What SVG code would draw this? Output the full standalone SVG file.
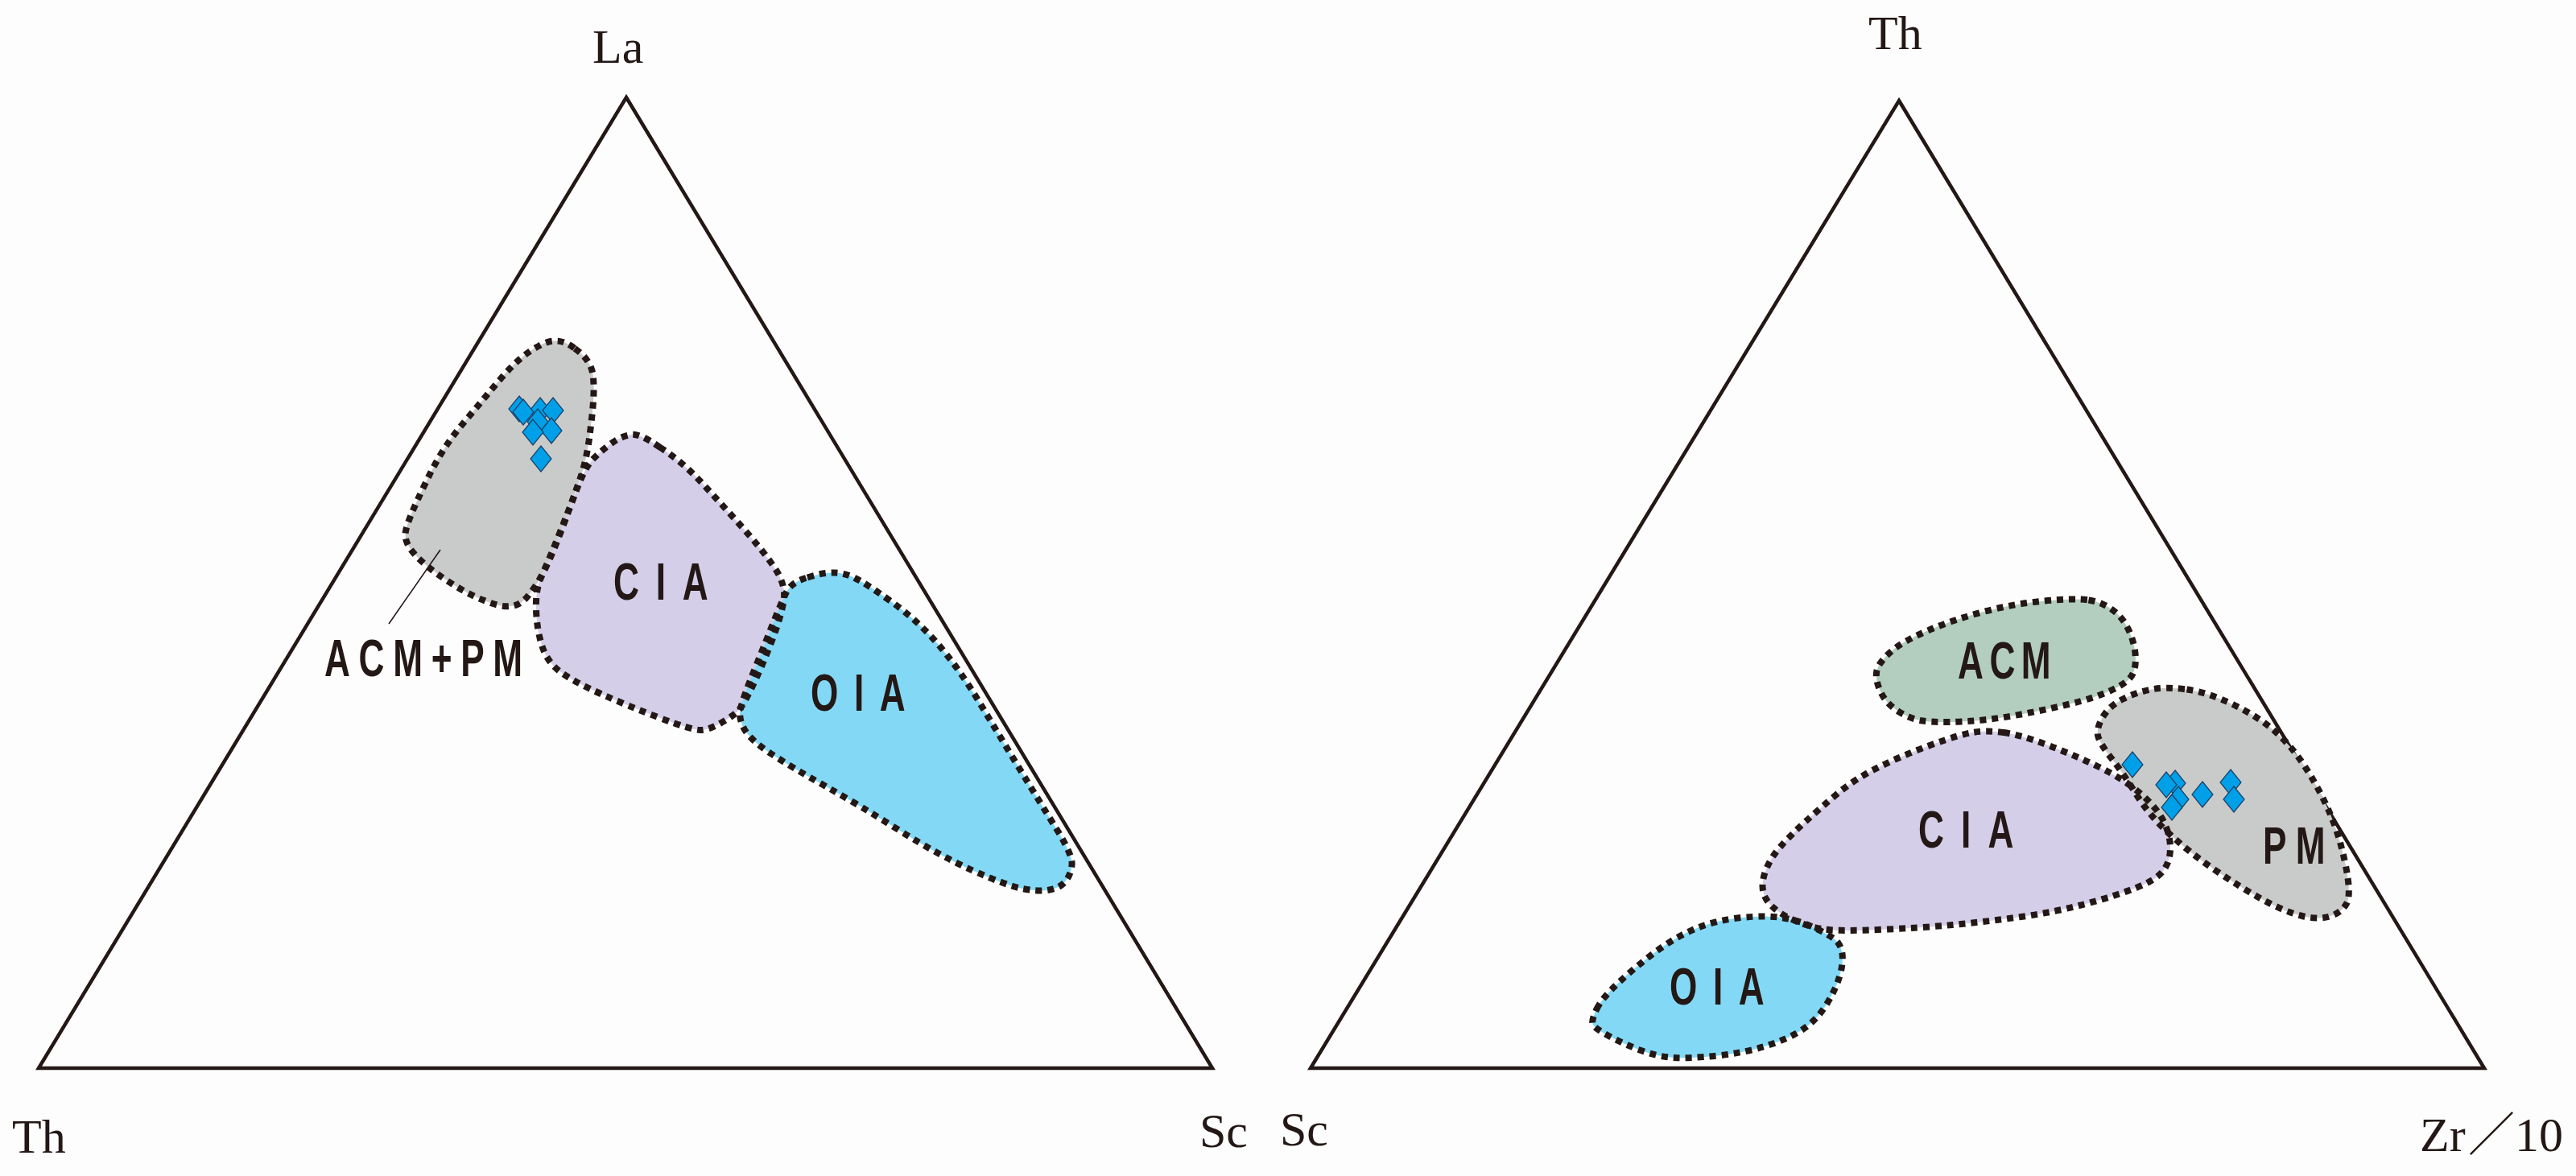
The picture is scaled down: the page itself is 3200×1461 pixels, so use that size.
<svg xmlns="http://www.w3.org/2000/svg" xmlns:xlink="http://www.w3.org/1999/xlink" width="3200" height="1461" viewBox="0 0 3200 1461">
<style>
.tri{fill:none;stroke:#231815;stroke-width:4.5;stroke-linejoin:miter}
.axis{font-family:"Liberation Serif","Times New Roman",serif;font-size:60px;fill:#231815}
.lab{font-family:"Liberation Sans",Arial,sans-serif;font-size:65px;font-weight:bold;fill:#231815}
.out{fill:none;stroke:#231815;stroke-width:8;stroke-dasharray:8 7}
.gray{fill:#c9cbca}
.lav{fill:#d4cee8}
.cyan{fill:#83d9f5}
.green{fill:#b3cdbe}
.pt{fill:#00a0e9;stroke:#1d3f63;stroke-width:1.2}
.lead{stroke:#231815;stroke-width:1.6;fill:none}
</style>
<defs>
<path id="dia" d="M0,-16 L13,0 L0,16 L-13,0 Z"/>
<path id="s-acmpm" d="M714,433 Q736,448 737,470 Q739,490 734,528.5 Q730,567 721.5,592 Q713,617 700,652 Q687,687 677,707 Q667,727 657,739 Q647,752 635,753 Q623,755 601.5,746 Q580,738 555,721 Q529,704 515.5,689 Q501,673 504,660 Q506,647 527,603.5 Q547,560 572,530 Q597,500 622,470.5 Q647,441 670,429.5 Q693,416 714,433 Z"/>
<path id="s-lcia" d="M819.5,555.5 Q847,573 872,600 Q897,627 922,655 Q947,683 962,705 Q977,727 973.5,747 Q970,767 958.5,797 Q947,827 935,852 Q923,877 916.5,883.5 Q910,890 895,898.5 Q880,907 870,907 Q860,907 820,892 Q780,877 746.5,862 Q713,847 696.5,835 Q680,823 673.5,803 Q667,783 666,758 Q665,733 672.5,716.5 Q680,700 693.5,666.5 Q707,633 717,606.5 Q727,580 737,570 Q747,560 758.5,551.5 Q770,543 781,540.5 Q792,536 819.5,555.5 Z"/>
<path id="s-loia" d="M1003,717.5 Q1023,711 1036.5,711.5 Q1050,712 1061.5,718 Q1073,723 1106,746.5 Q1139,770 1165,800 Q1191,830 1216,871.5 Q1241,913 1266.5,955 Q1292,997 1312.5,1030 Q1333,1063 1331.5,1075 Q1330,1087 1323.5,1095 Q1317,1103 1303.5,1105.5 Q1290,1108 1270,1104 Q1250,1100 1208.5,1081.5 Q1167,1063 1117,1031.5 Q1067,1000 1025,976.5 Q983,953 958,936.5 Q933,920 925,906.5 Q917,893 920,880 Q923,867 938,830 Q953,793 961.5,771.5 Q970,750 976.5,736.5 Q983,723 1003,717.5 Z"/>
<path id="s-racm" d="M2594.5,745.5 Q2611,748 2624,757.5 Q2637,767 2644,782 Q2651,797 2652.5,812 Q2654,827 2649.5,837 Q2645,847 2624,857 Q2603,867 2569.5,875 Q2536,883 2502,889 Q2468,895 2436.5,896.5 Q2405,898 2388.5,895.5 Q2372,893 2357,883 Q2342,873 2335.5,858 Q2329,843 2331.5,833 Q2334,823 2348.5,810 Q2363,797 2394.5,783.5 Q2426,770 2464,760 Q2502,750 2540,746.5 Q2578,743 2594.5,745.5 Z"/>
<path id="s-rpm" d="M2716.5,856.5 Q2742,860 2773.5,875 Q2805,890 2826,908.5 Q2847,927 2864,953.5 Q2881,980 2893.5,1008.5 Q2906,1037 2913.5,1073.5 Q2921,1110 2915.5,1121.5 Q2910,1133 2895.5,1138 Q2881,1143 2860,1138 Q2839,1133 2811.5,1118 Q2784,1103 2752.5,1081.5 Q2721,1060 2695.5,1036.5 Q2670,1013 2653.5,986.5 Q2637,960 2624,943.5 Q2611,927 2607,917 Q2603,907 2611.5,892 Q2620,877 2637,868.5 Q2654,860 2672.5,856.5 Q2691,853 2716.5,856.5 Z"/>
<path id="s-rcia" d="M2489,910 Q2510,913 2542,925 Q2574,937 2605.5,952 Q2637,967 2658,985 Q2679,1003 2687.5,1020 Q2696,1037 2696,1053.5 Q2696,1070 2687.5,1081.5 Q2679,1093 2653.5,1103 Q2628,1113 2590.5,1123 Q2553,1133 2510.5,1139 Q2468,1145 2425.5,1149 Q2383,1153 2333,1155 Q2283,1157 2266.5,1154.5 Q2250,1152 2232.5,1145 Q2215,1138 2203.5,1128 Q2192,1118 2190,1106.5 Q2188,1095 2194,1080 Q2200,1065 2212.5,1051 Q2225,1037 2242.5,1021 Q2260,1005 2282.5,986 Q2305,967 2336,952 Q2367,937 2400,925 Q2433,913 2450.5,910 Q2468,907 2489,910 Z"/>
<path id="s-roia" d="M1983.5,1253.5 Q1990,1240 2011.5,1220 Q2033,1200 2058,1181.5 Q2083,1163 2108,1153 Q2133,1143 2163,1140 Q2193,1137 2213,1140 Q2233,1143 2251.5,1151.5 Q2270,1160 2278.5,1166.5 Q2287,1173 2288.5,1185 Q2290,1197 2285,1213.5 Q2280,1230 2268.5,1248.5 Q2257,1267 2240,1278.5 Q2223,1290 2195,1299 Q2167,1308 2133.5,1311.5 Q2100,1315 2080,1314 Q2060,1313 2038.5,1305 Q2017,1297 1998.5,1287 Q1980,1277 1978.5,1272 Q1977,1267 1983.5,1253.5 Z"/>
</defs>
<rect x="0" y="0" width="3200" height="1461" fill="#fdfdfd"/>

<g id="left-diagram">
<polygon id="left-triangle" class="tri" points="778,121 1506,1327 48,1327"/>
<text class="axis" x="736" y="78">La</text>
<text class="axis" x="15" y="1432">Th</text>
<text class="axis" x="1490" y="1425">Sc</text>
</g>

<g id="right-diagram">
<polygon id="right-triangle" class="tri" points="2359,125 3086,1327 1628,1327"/>
<text class="axis" x="2321" y="61">Th</text>
<text class="axis" x="1590" y="1423">Sc</text>
<text class="axis" x="3006" y="1430">Zr<tspan x="3066" font-family="'Noto Sans CJK SC','Liberation Serif',sans-serif" font-size="58">／</tspan><tspan x="3124">10</tspan></text>
</g>

<g id="node-left-acm-pm"><use xlink:href="#s-acmpm" href="#s-acmpm" class="gray"/></g>
<g id="node-left-cia"><use xlink:href="#s-lcia" href="#s-lcia" class="lav"/>
<text class="lab" transform="translate(762,745) scale(0.68,1)" textLength="173" lengthAdjust="spacing">CIA</text></g>
<g id="node-left-oia"><use xlink:href="#s-loia" href="#s-loia" class="cyan"/>
<text class="lab" transform="translate(1007,883) scale(0.68,1)" textLength="173" lengthAdjust="spacing">OIA</text></g>

<g id="node-right-acm"><use xlink:href="#s-racm" href="#s-racm" class="green"/>
<text class="lab" transform="translate(2432,843) scale(0.68,1)" textLength="170" lengthAdjust="spacing">ACM</text></g>
<g id="node-right-cia"><use xlink:href="#s-rcia" href="#s-rcia" class="lav"/>
<text class="lab" transform="translate(2383,1053) scale(0.68,1)" textLength="174" lengthAdjust="spacing">CIA</text></g>
<g id="node-right-pm"><use xlink:href="#s-rpm" href="#s-rpm" class="gray"/>
<text class="lab" transform="translate(2811,1073) scale(0.68,1)" textLength="114" lengthAdjust="spacing">PM</text></g>
<g id="node-right-oia"><use xlink:href="#s-roia" href="#s-roia" class="cyan"/>
<text class="lab" transform="translate(2074,1248) scale(0.68,1)" textLength="173" lengthAdjust="spacing">OIA</text></g>

<g id="outlines">
<use xlink:href="#s-acmpm" href="#s-acmpm" class="out"/>
<use xlink:href="#s-lcia" href="#s-lcia" class="out"/>
<use xlink:href="#s-loia" href="#s-loia" class="out"/>
<use xlink:href="#s-racm" href="#s-racm" class="out"/>
<use xlink:href="#s-rcia" href="#s-rcia" class="out"/>
<use xlink:href="#s-rpm" href="#s-rpm" class="out"/>
<use xlink:href="#s-roia" href="#s-roia" class="out"/>
</g>

<g id="connectors">
<line class="lead" x1="547" y1="683" x2="483" y2="775"/>
</g>
<g id="node-label-acm-pm">
<text class="lab" transform="translate(403,840) scale(0.68,1)" textLength="362" lengthAdjust="spacing">ACM+PM</text>
</g>

<g id="points-left">
<use xlink:href="#dia" href="#dia" class="pt" x="671" y="510"/>
<use xlink:href="#dia" href="#dia" class="pt" x="645" y="508"/>
<use xlink:href="#dia" href="#dia" class="pt" x="650" y="512"/>
<use xlink:href="#dia" href="#dia" class="pt" x="687" y="510"/>
<use xlink:href="#dia" href="#dia" class="pt" x="668" y="524"/>
<use xlink:href="#dia" href="#dia" class="pt" x="685" y="535"/>
<use xlink:href="#dia" href="#dia" class="pt" x="662" y="537"/>
<use xlink:href="#dia" href="#dia" class="pt" x="672" y="570"/>
</g>
<g id="points-right">
<use xlink:href="#dia" href="#dia" class="pt" x="2649" y="950"/>
<use xlink:href="#dia" href="#dia" class="pt" x="2702" y="973"/>
<use xlink:href="#dia" href="#dia" class="pt" x="2691" y="975"/>
<use xlink:href="#dia" href="#dia" class="pt" x="2706" y="993"/>
<use xlink:href="#dia" href="#dia" class="pt" x="2698" y="1003"/>
<use xlink:href="#dia" href="#dia" class="pt" x="2736" y="987"/>
<use xlink:href="#dia" href="#dia" class="pt" x="2771" y="972"/>
<use xlink:href="#dia" href="#dia" class="pt" x="2775" y="993"/>
</g>
</svg>
